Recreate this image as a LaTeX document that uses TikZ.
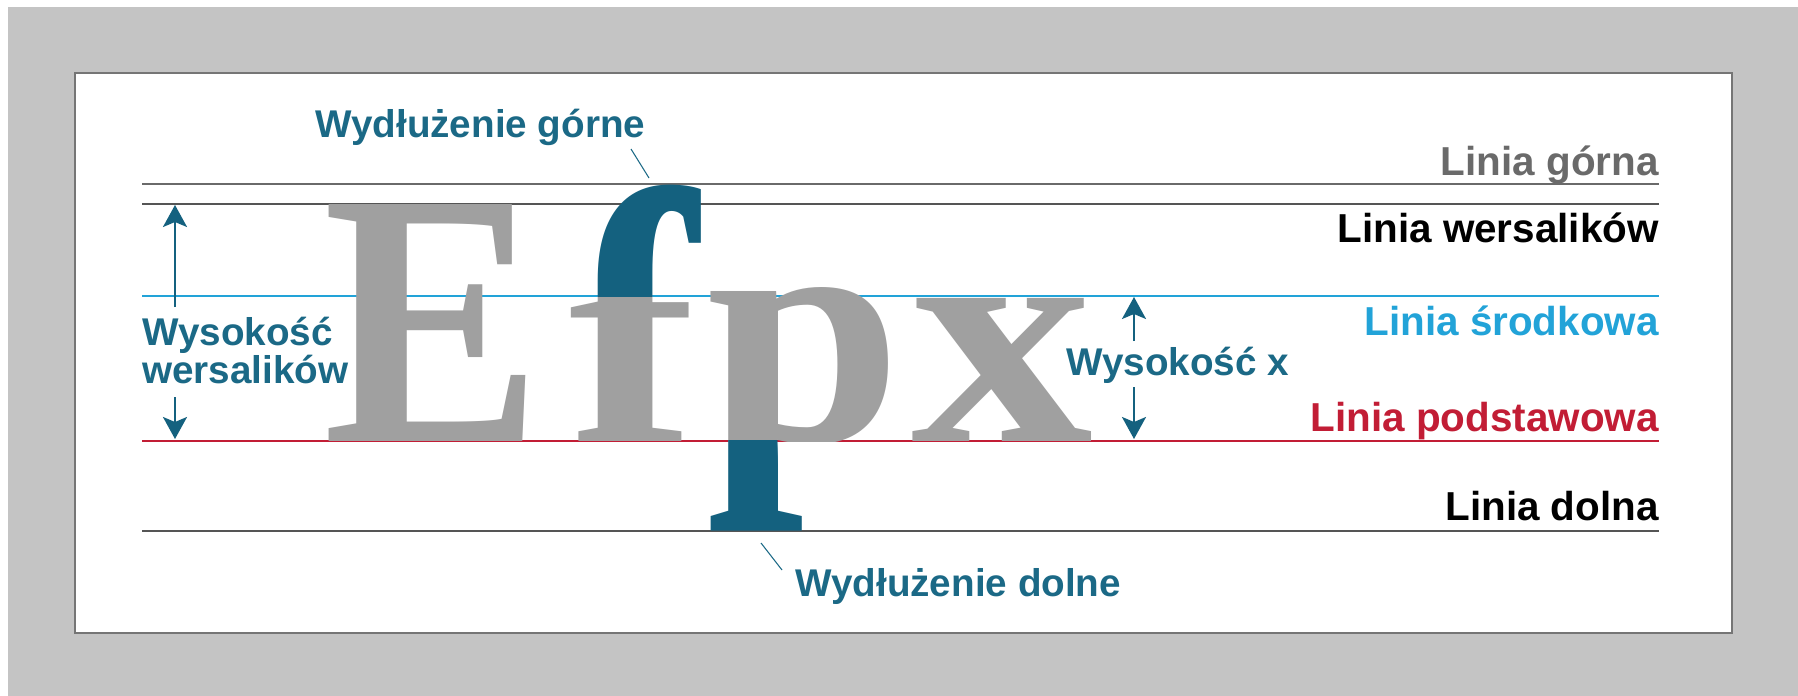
\documentclass[tikz,border=0pt]{standalone}
\usepackage{graphicx}
\usepackage{fontspec}
\setmainfont{Liberation Sans}
\newfontfamily\bigserif{Liberation Serif}
\usetikzlibrary{arrows.meta}
\definecolor{bggray}{HTML}{C4C4C4}
\definecolor{framegray}{HTML}{757575}
\definecolor{glyphgray}{HTML}{A0A0A0}
\definecolor{petrol}{HTML}{14617F}
\definecolor{labelteal}{HTML}{1B6986}
\definecolor{topgray}{HTML}{6A6A6A}
\definecolor{capgray}{HTML}{555555}
\definecolor{midblue}{HTML}{22A3D8}
\definecolor{basered}{HTML}{C21D35}

\begin{document}
\begin{tikzpicture}[x=0.02cm, y=-0.02cm,
        lbl/.style={inner sep=0pt, anchor=base east, font=\fontsize{23}{26}\selectfont\bfseries},
        note/.style={inner sep=0pt, text=labelteal, font=\fontsize{22}{19.9}\selectfont\bfseries},
        glyph/.style={inner sep=0pt, outer sep=0pt, font=\bigserif\bfseries},
        guide/.style={line width=1.1pt},
        dim/.style={draw=petrol, line width=1.3pt, -{Stealth[length=0.44cm, width=0.48cm, inset=0.1cm]}},
        leader/.style={draw=labelteal, line width=0.6pt}]
        \fill[white] (0, 0) rectangle (1798, 696);
        \fill[bggray] (8, 7) rectangle (1798, 696);
        \useasboundingbox (0, 0) rectangle (1798, 696);
        \filldraw[fill=white, draw=framegray, line width=0.8pt] (75, 73) rectangle (1732, 633);

        \draw[guide, topgray] (142, 184) -- (1659, 184);
        \draw[guide, capgray, line width=1.7pt] (142, 204) -- (1659, 204);
        \draw[guide, midblue] (142, 296) -- (1659, 296);
        \draw[guide, basered] (142, 441) -- (1659, 441);
        \draw[guide, capgray] (142, 531) -- (1659, 531);

        \node[glyph, glyphgray, anchor=base west] at(323, 441) (bigE) {\resizebox{4.38cm}{4.74cm}{E}};
        \begin{scope}
            \clip (540, 296) rectangle (760, 470);
            \node[glyph, glyphgray, anchor=base west] at(568, 441) (fgray) {\resizebox{2.58cm}{4.26cm}{f}};
        \end{scope}
        \begin{scope}
            \clip (540, 150) rectangle (760, 296.5);
            \node[glyph, petrol, anchor=north west] at(568, 185) (fteal) {\resizebox{2.58cm}{6.9cm}{f}};
        \end{scope}
        \begin{scope}
            \clip (690, 250) rectangle (905, 441);
            \node[glyph, glyphgray, anchor=base west] at(706, 441) (pgray) {\resizebox{3.92cm}{3.08cm}{p}};
        \end{scope}
        \begin{scope}
            \clip (690, 440.5) rectangle (905, 560);
            \node[glyph, petrol, anchor=south west] at(706, 531) (pteal) {\resizebox*{3.92cm}{6.2cm}{p}};
        \end{scope}
        \node[glyph, glyphgray, anchor=base west] at(911, 441) (bigx) {\resizebox{3.64cm}{2.86cm}{x}};

        \node[lbl, topgray] at(1659, 175) (lgorna) {Linia górna};
        \node[lbl, black] at(1659, 242) (lwers) {Linia wersalików};
        \node[lbl, midblue] at(1659, 335) (lsrod) {Linia środkowa};
        \node[lbl, basered] at(1659, 431) (lpodst) {Linia podstawowa};
        \node[lbl, black] at(1659, 520) (ldolna) {Linia dolna};

        \node[note, anchor=base west] at(315, 137) (wgorne) {Wydłużenie górne};
        \node[note, anchor=north west, align=left] at(142, 317) (wcap) {Wysokość\\wersalików};
        \node[note, anchor=base west] at(1066, 375) (wx) {Wysokość x};
        \node[note, anchor=base west] at(795, 596) (wdolne) {Wydłużenie dolne};

        \coordinate (capTop) at(175, 205);
        \coordinate (capUp) at(175, 307);
        \coordinate (capDown) at(175, 397);
        \coordinate (capBot) at(175, 439);
        \coordinate (xTop) at(1134, 297);
        \coordinate (xUp) at(1134, 341);
        \coordinate (xDown) at(1134, 387);
        \coordinate (xBot) at(1134, 439);
        \draw[dim] (capUp) -- (capTop);
        \draw[dim] (capDown) -- (capBot);
        \draw[dim] (xUp) -- (xTop);
        \draw[dim] (xDown) -- (xBot);

        \coordinate (ascA) at(631, 149);
        \coordinate (ascB) at(649, 178);
        \coordinate (descA) at(761, 543);
        \coordinate (descB) at(782, 570);
        \draw[leader] (ascA) -- (ascB);
        \draw[leader] (descA) -- (descB);
    \end{tikzpicture}
\end{document}
